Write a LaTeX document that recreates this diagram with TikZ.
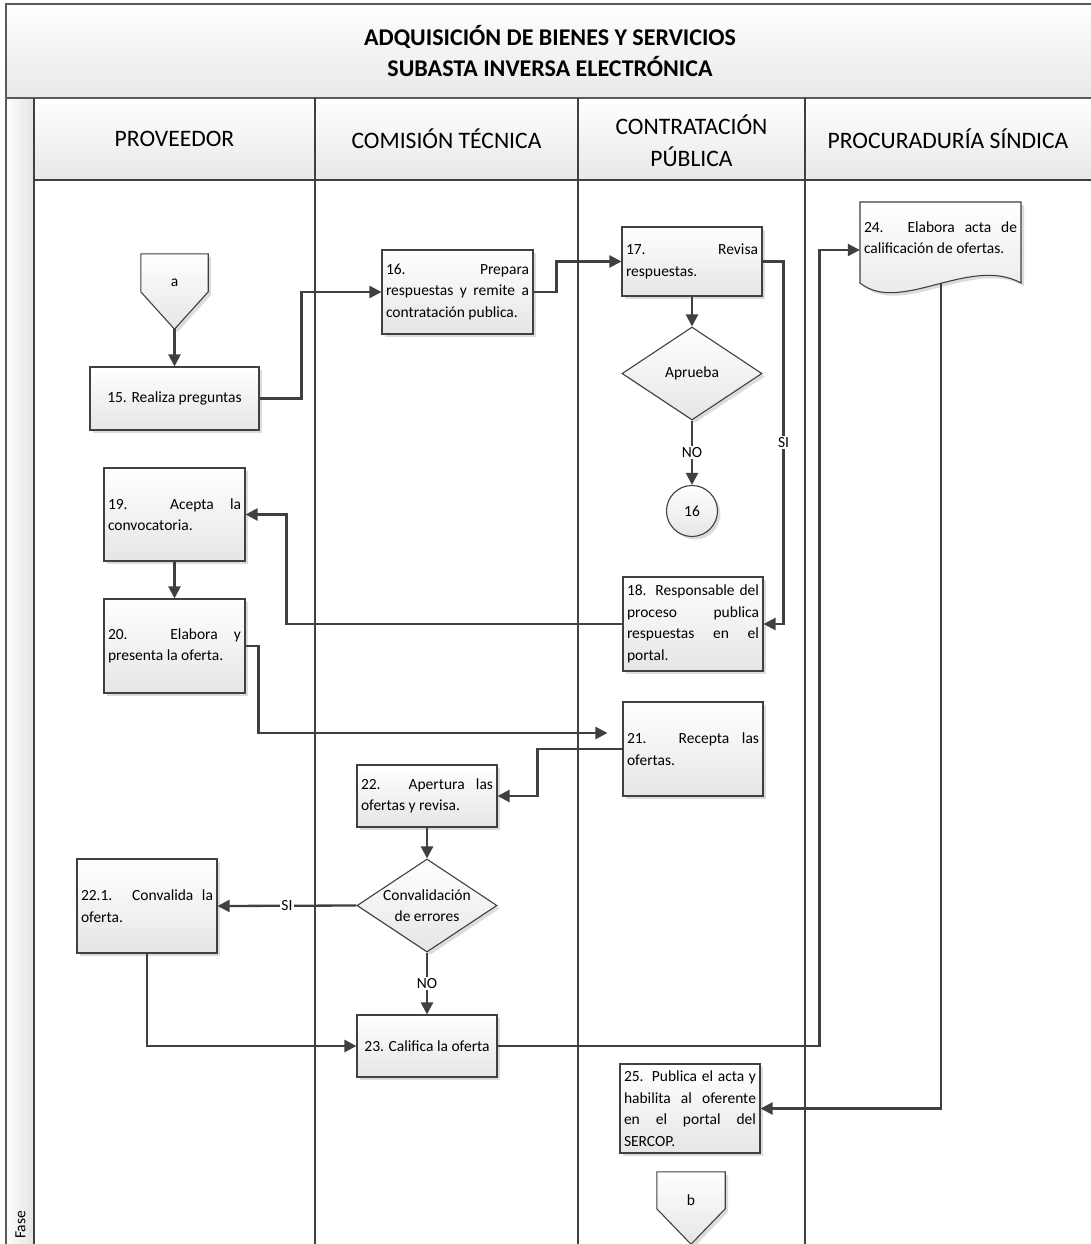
\documentclass[tikz,border=0pt]{standalone}
\usepackage{fontspec}
\setmainfont{Carlito}
\usetikzlibrary{arrows.meta,shapes.geometric,shadows}
\definecolor{linec}{HTML}{404040}
\definecolor{framec}{HTML}{5A5A5A}
\hyphenpenalty=10000 \exhyphenpenalty=10000
\tolerance=10000 \pretolerance=10000 \hbadness=10000
\tikzset{
  txt/.style={font=\fontsize{15.5}{21.5}\selectfont},
  boxshadow/.style={drop shadow={shadow xshift=3pt,shadow yshift=-3pt,fill=black!30,opacity=.45}},
  shapebox/.style={draw=linec, line width=1.1pt, top color=white, bottom color=black!10, boxshadow},
  proc/.style={shapebox, txt, inner xsep=4pt, inner ysep=2pt, align=justify},
  dec/.style={diamond, shapebox, inner sep=0pt},
  onpage/.style={circle, shapebox, txt, inner sep=0pt},
  conn/.style={draw=linec, line width=2.3pt, -{Triangle[length=12pt,width=12pt]}},
  lbl/.style={txt, fill=white, inner sep=1.5pt},
  lane/.style={draw=linec, line width=1.4pt},
  frame/.style={draw=framec, line width=2pt},
  hdr/.style={font=\fontsize{23.6}{32}\selectfont, align=center},
}
\begin{document}
\begin{tikzpicture}[x=1pt,y=-1pt]
\useasboundingbox (0,0) rectangle (1091,1244);
\clip (0,0) rectangle (1091,1244);
\fill[white] (0,0) rectangle (1091,1244);

% ---------- frame, title, headers ----------
\shade[top color=white, bottom color=black!9] (6,4) rectangle (1100,98);
\shade[top color=white, bottom color=black!9] (34,98) rectangle (1100,180);
\shade[left color=white, right color=black!11] (6,98) rectangle (34,1260);
\draw[frame] (6,1260) -- (6,4) -- (1100,4);
\draw[frame] (6,98) -- (1100,98);
\draw[lane] (34,180) -- (1100,180);
\draw[lane] (34,98) -- (34,1260);
\draw[lane] (315,98) -- (315,1260);
\draw[lane] (578,98) -- (578,1260);
\draw[lane] (805,98) -- (805,1260);

\node[hdr, font=\fontsize{24}{31.5}\selectfont\bfseries] (title) at (550,51)
  {ADQUISICIÓN DE BIENES Y SERVICIOS\\SUBASTA INVERSA ELECTRÓNICA};
\node[hdr] (hprov) at (174.5,139) {PROVEEDOR};
\node[hdr] (hcom) at (446.5,139) {COMISIÓN TÉCNICA};
\node[hdr] (hcon) at (691.5,141) {CONTRATACIÓN\\PÚBLICA};
\node[hdr] (hproc) at (948,139) {PROCURADURÍA SÍNDICA};
\node[txt, rotate=90] (fase) at (20.5,1225) {Fase};

% ---------- off-page connector a ----------
\node[minimum width=67, minimum height=75, inner sep=0pt] (a) at (174.5,291.5) {};
\path[shapebox] (a.north west) -- (a.north east) -- ([yshift=-38pt]a.north east)
  -- (a.south) -- ([yshift=-38pt]a.north west) -- cycle;
\node[txt] (atext) at ([yshift=8.5pt]a.center) {a};

% ---------- process boxes ----------
\node[proc, align=center, minimum width=169, minimum height=63] (n15) at (174.5,398.5) {15. Realiza preguntas};
\node[proc, minimum width=151, minimum height=84, text width=143pt] (n16) at (457.5,292)
  {16. Prepara\linebreak respuestas y remite a\linebreak contratación publica.};
\node[proc, minimum width=140, minimum height=69, text width=132pt] (n17) at (692,261.5)
  {17. Revisa\linebreak respuestas.};
\node[dec, minimum width=140, minimum height=93] (dA) at (692,373.5) {};
\node[txt] (dAtext) at (dA.center) {Aprueba};
\node[onpage, minimum size=51] (c16) at (692,511) {16};
\node[proc, minimum width=140, minimum height=94, text width=132pt] (n18) at (693,624)
  {18. Responsable del\linebreak proceso publica\linebreak respuestas en el\linebreak portal.};
\node[proc, minimum width=141, minimum height=93, text width=133pt] (n19) at (174.5,514.5)
  {19. Acepta la\linebreak convocatoria.};
\node[proc, minimum width=141, minimum height=94, text width=133pt] (n20) at (174.5,646)
  {20. Elabora y\linebreak presenta la oferta.};
\node[proc, minimum width=140, minimum height=94, text width=132pt] (n21) at (693,749)
  {21. Recepta las\linebreak ofertas.};
\node[proc, minimum width=140, minimum height=62, text width=132pt] (n22) at (427,796)
  {22. Apertura las\linebreak ofertas y revisa.};
\node[dec, minimum width=140, minimum height=93] (dC) at (427,905.5) {};
\node[txt, align=center] (dCtext) at (dC.center) {Convalidación\\de errores};
\node[proc, minimum width=140, minimum height=94, text width=132pt] (n221) at (147,906)
  {22.1. Convalida la\linebreak oferta.};
\node[proc, align=center, minimum width=140, minimum height=62] (n23) at (427,1046)
  {23. Califica la oferta};

% ---------- document 24 ----------
\path[shapebox] (860,202) -- (1021,202) -- (1021,283)
  .. controls (970,255) and (900,315) .. (860,283) -- cycle;
\node[txt, align=justify, inner xsep=4pt, minimum width=161, text width=153pt] (n24) at (940.5,237.5)
  {24. Elabora acta de\linebreak calificación de ofertas.};
\coordinate (n24b) at (941,283);

\node[proc, minimum width=140, minimum height=89, text width=132pt] (n25) at (690,1108.5)
  {25. Publica el acta y\linebreak habilita al oferente\linebreak en el portal del\linebreak SERCOP.};

% ---------- off-page connector b ----------
\node[minimum width=68, minimum height=72, inner sep=0pt] (b) at (691,1208) {};
\path[shapebox] (b.north west) -- (b.north east) -- ([yshift=-37pt]b.north east)
  -- (b.south) -- ([yshift=-37pt]b.north west) -- cycle;
\node[txt] (btext) at ([yshift=8pt]b.center) {b};

% ---------- connectors ----------
\draw[conn] (a.south) -- (n15.north);
\draw[conn] (n15.east) -- ++(42,0) |- (n16.west);
\draw[conn] (n16.east) -- ++(23,0) |- (n17.west);
\draw[conn] (n17.south) -- (dA.north);
\draw[conn] (dA.south) -- node[lbl]{NO} (c16.north);
\draw[conn] (n17.east) -- ++(21,0) |- node[lbl,pos=.25]{SI} (n18.east);
\draw[conn] (n18.west) -- ++(-336,0) |- (n19.east);
\draw[conn] (n19.south) -- (n20.north);
\draw[conn] (n20.east) -- ++(13,0) |- ([xshift=-15pt,yshift=16pt]n21.west);
\draw[conn] (n21.west) -- ++(-85,0) |- (n22.east);
\draw[conn] (n22.south) -- (dC.north);
\draw[conn] (dC.west) -- node[lbl]{SI} (n221.east);
\draw[conn] (dC.south) -- node[lbl]{NO} (n23.north);
\draw[conn] (n221.south) |- (n23.west);
\draw[conn] (n23.east) -- ++(322,0) |- ([yshift=-12.5pt]n24.west);
\draw[conn] (n24b) |- (n25.east);
\end{tikzpicture}
\end{document}
